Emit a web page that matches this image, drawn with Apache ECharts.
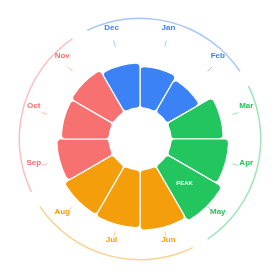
<!DOCTYPE html>
<html>
<head>
<meta charset="utf-8">
<script src="https://cdn.jsdelivr.net/npm/echarts@6/dist/echarts.min.js"></script>
<style>
    html, body { margin: 0; padding: 0; background: #fff; }
    #chart { width: 277px; height: 277px; }
</style>
</head>
<body>
<div id="chart"></div>
<script>
    // monthly values, one bar per month
    var months = ['Jan', 'Feb', 'Mar', 'Apr', 'May', 'Jun', 'Jul', 'Aug', 'Sep', 'Oct', 'Nov', 'Dec'];
    var values = [46, 42, 58, 64, 71, 67, 64, 63, 58, 53, 54, 50];
    // season of each month (index into seasons)
    var monthSeason = [0, 0, 1, 1, 1, 2, 2, 2, 3, 3, 3, 0];
    var seasons = ['Winter', 'Spring', 'Summer', 'Autumn'];
    var seasonColors = ['#3b82f6', '#22c55e', '#f59e0b', '#f87171'];
    var ringValues = [1, 1, 1, 1];
    var labelSlots = [1, 1, 1, 1, 1, 1, 1, 1, 1, 1, 1, 1];
    var peakLabel = 'PEAK';

    var center = [140, 139];
    var font = '"Liberation Sans", Arial, sans-serif';
    var peak = Math.max.apply(null, values);

    var polars = [{ center: center, radius: [31, 121] }];
    var angleAxes = [{ polarIndex: 0, type: 'category', data: months, startAngle: 90, show: false }];
    var radiusAxes = [{ polarIndex: 0, min: 0, max: 100, show: false }];

    // one axis per season, so the ticks can take the season colour
    seasons.forEach(function (s, si) {
        let pick = function (idx) { return monthSeason[idx] === si; };
        polars.push({ center: center, radius: [0, 95.5] });
        angleAxes.push({
            polarIndex: si + 1,
            type: 'category',
            data: months,
            startAngle: 90,
            axisLine: { show: false },
            splitLine: { show: false },
            axisLabel: { show: false },
            axisTick: {
                show: true,
                alignWithLabel: true,
                length: 6.5,
                interval: pick,
                lineStyle: { color: seasonColors[si], opacity: 0.45, width: 1 }
            }
        });
        radiusAxes.push({ polarIndex: si + 1, show: false });
    });

    // outer season ring
    polars.push({ center: center, radius: [120, 121.5] });
    angleAxes.push({ polarIndex: 5, type: 'category', data: seasons, startAngle: 120, show: false });
    radiusAxes.push({ polarIndex: 5, min: 0, max: 1, show: false });

    // month names, centred on a ring just inside the season arcs
    polars.push({ center: center, radius: [100, 120] });
    angleAxes.push({ polarIndex: 6, type: 'category', data: months, startAngle: 90, show: false });
    radiusAxes.push({ polarIndex: 6, min: 0, max: 1, show: false });

    var monthLabelData = labelSlots.map(function (v, i) {
        return { value: v, label: { color: seasonColors[monthSeason[i]] } };
    });

    var chart = echarts.init(document.getElementById('chart'));
    chart.setOption({
        animation: false,
        polar: polars,
        angleAxis: angleAxes,
        radiusAxis: radiusAxes,
        series: [
            {
                type: 'bar',
                coordinateSystem: 'polar',
                polarIndex: 0,
                data: values,
                barCategoryGap: '0%',
                itemStyle: {
                    color: (p) => seasonColors[monthSeason[p.dataIndex]],
                    borderColor: '#fff',
                    borderWidth: 1.2,
                    borderRadius: 4
                },
                label: {
                    show: true,
                    position: 'middle',
                    rotate: 0,
                    formatter: (p) => p.value === peak ? peakLabel : '',
                    color: '#fff',
                    fontSize: 6,
                    fontWeight: 'bold',
                    fontFamily: font
                }
            },
            {
                type: 'bar',
                coordinateSystem: 'polar',
                polarIndex: 5,
                data: ringValues,
                barWidth: '91%',
                silent: true,
                itemStyle: {
                    color: (p) => seasonColors[p.dataIndex],
                    opacity: 0.45
                }
            },
            {
                type: 'bar',
                coordinateSystem: 'polar',
                polarIndex: 6,
                data: monthLabelData,
                barCategoryGap: '0%',
                silent: true,
                itemStyle: { color: 'transparent' },
                label: {
                    show: true,
                    position: 'middle',
                    rotate: 0,
                    offset: [0, -5],
                    formatter: (p) => p.name,
                    fontSize: 8,
                    fontWeight: 'bold',
                    fontFamily: font
                }
            }
        ]
    });
</script>
</body>
</html>
